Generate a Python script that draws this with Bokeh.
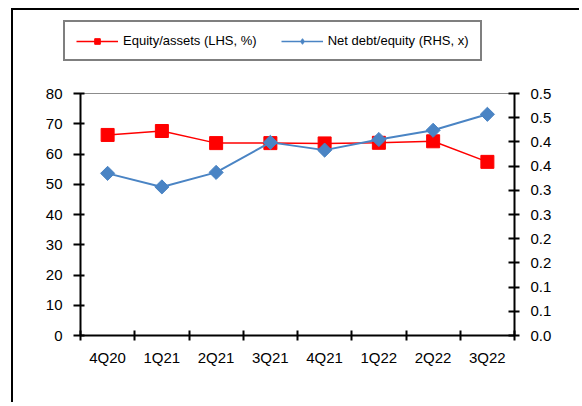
import numpy as np
from bokeh.plotting import figure
from bokeh.layouts import column
from bokeh.models import (Range1d, LinearAxis, FixedTicker, Legend, LegendItem)
from bokeh.embed import file_html
from bokeh.resources import INLINE

categories = ["4Q20", "1Q21", "2Q21", "3Q21", "4Q21", "1Q22", "2Q22", "3Q22"]
equity_assets = [66.3, 67.6, 63.6, 63.6, 63.5, 63.7, 64.2, 57.4]
net_debt_equity = [0.335, 0.307, 0.337, 0.399, 0.383, 0.405, 0.424, 0.457]
left_ticks = [0, 10, 20, 30, 40, 50, 60, 70, 80]
right_ticks = [0.0, 0.05, 0.10, 0.15, 0.20, 0.25, 0.30, 0.35, 0.40, 0.45, 0.50]
right_tick_labels = ["0.0", "0.1", "0.1", "0.2", "0.2", "0.3", "0.3", "0.4", "0.4", "0.5", "0.5"]
series_names = ["Equity/assets (LHS, %)", "Net debt/equity (RHS, x)"]

FONT = "Liberation Sans"
RED = "#ff0000"
BLUE = "#4a84c4"
W = 566

xs = list(range(1, len(categories) + 1))

# ---- legend strip (its own small figure, so the legend is not clipped) ----
leg = figure(width=W, height=73, output_backend="svg", toolbar_location=None,
             x_range=Range1d(0, 1), y_range=Range1d(1000, 1001),
             min_border=0, min_border_left=0, min_border_right=0,
             min_border_top=0, min_border_bottom=0,
             x_axis_type=None, y_axis_type=None)
unaligned = "frame_align" in leg.properties()
if unaligned:
    leg.frame_align = False
leg.grid.visible = False
leg.outline_line_color = None
# legend proxies (the real series, kept out of view of this strip's ranges)
lg1 = leg.line(xs, equity_assets, line_color=RED, line_width=1.5)
lm1 = leg.scatter(xs, equity_assets, marker="square", size=9, fill_color=RED, line_color=RED)
lg2 = leg.line(xs, net_debt_equity, line_color=BLUE, line_width=1.5)
lm2 = leg.scatter(xs, net_debt_equity, marker="diamond", size=11,
                  fill_color=BLUE, line_color=BLUE)
legend = Legend(items=[
    LegendItem(label=series_names[0], renderers=[lg1, lm1]),
    LegendItem(label=series_names[1], renderers=[lg2, lm2]),
], orientation="horizontal", location=(50 if unaligned else 0, 22))
legend.border_line_color = "black"
legend.border_line_width = 2
legend.padding = 11
legend.spacing = 24
legend.margin = 0
legend.glyph_width = 42
legend.glyph_height = 14
legend.label_height = 14
legend.label_standoff = 5
legend.label_text_font = FONT
legend.label_text_font_size = "13px"
legend.label_text_color = "black"
legend.background_fill_alpha = 1
leg.add_layout(legend, "center")

# ---- main chart ----
p = figure(width=W, height=392 - 73, output_backend="svg", toolbar_location=None,
           x_range=Range1d(0.5, len(categories) + 0.5), y_range=Range1d(0, 80),
           min_border_left=67, min_border_top=10, min_border_right=65, min_border_bottom=67,
           x_axis_type=None, y_axis_type=None)
p.grid.visible = False
p.outline_line_color = "#8c8c8c"
p.outline_line_width = 1
p.extra_y_ranges = {"rhs": Range1d(0, 0.5)}

def style_axis(ax):
    ax.axis_line_color = "black"
    ax.axis_line_width = 2
    ax.major_tick_line_color = "black"
    ax.major_tick_line_width = 2
    ax.minor_tick_line_color = "black"
    ax.minor_tick_line_width = 2
    ax.major_label_text_font = FONT
    ax.major_label_text_font_size = "15px"
    ax.major_label_text_color = "black"

# x axis: labels at category centres, ticks at category boundaries
xax = LinearAxis(ticker=FixedTicker(ticks=xs, minor_ticks=[x - 0.5 for x in xs] + [xs[-1] + 0.5]))
style_axis(xax)
xax.major_tick_in = 0
xax.major_tick_out = 0
xax.minor_tick_in = 5
xax.minor_tick_out = 5
xax.major_label_standoff = 8
xax.major_label_overrides = {x: c for x, c in zip(xs, categories)}
p.add_layout(xax, "below")

lax = LinearAxis(ticker=FixedTicker(ticks=left_ticks, minor_ticks=[]))
style_axis(lax)
lax.major_tick_in = 4
lax.major_tick_out = 7
lax.major_label_standoff = 11
p.add_layout(lax, "left")

rax = LinearAxis(y_range_name="rhs", ticker=FixedTicker(ticks=right_ticks, minor_ticks=[]))
style_axis(rax)
rax.major_tick_in = 6
rax.major_tick_out = 5
rax.major_label_standoff = 11
rax.major_label_overrides = {t: s for t, s in zip(right_ticks, right_tick_labels)}
p.add_layout(rax, "right")

p.line(xs, equity_assets, line_color=RED, line_width=1.5)
p.scatter(xs, equity_assets, marker="square", size=13, fill_color=RED, line_color=RED)
p.line(xs, net_debt_equity, y_range_name="rhs", line_color=BLUE, line_width=2)
p.scatter(xs, net_debt_equity, y_range_name="rhs", marker="square", angle=np.pi / 4,
          size=10, fill_color=BLUE, line_color=BLUE)

layout = column(leg, p, spacing=0)
layout.margin = (8, 0, 0, 11)
layout.styles = {"border-left": "2px solid #000", "border-top": "2px solid #000"}

open("out.html", "w").write(file_html(layout, INLINE))
